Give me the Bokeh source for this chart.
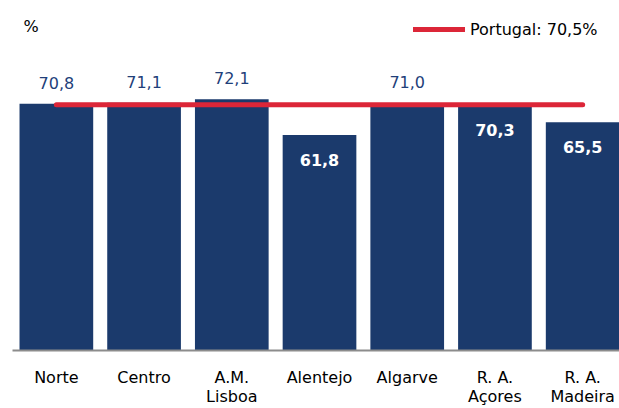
from bokeh.plotting import figure
from bokeh.models import Range1d, FixedTicker, ColumnDataSource, Label, Legend, LegendItem
from bokeh.embed import file_html
from bokeh.resources import INLINE
from bokeh.core.properties import value

regions = ["Norte", "Centro", "A.M.\nLisboa", "Alentejo", "Algarve", "R. A.\nAçores", "R. A.\nMadeira"]
rates = [70.8, 71.1, 72.1, 61.8, 71.0, 70.3, 65.5]
portugal = 70.5
portugal_label = "Portugal: 70,5%"
unit_label = "%"

BAR = "#1B3A6C"
RED = "#DC2638"
LBL = "#1F3F7A"
FONT = "DejaVu Sans"

xs = list(range(len(regions)))
fmt = [f"{v:.1f}".replace(".", ",") for v in rates]

p = figure(width=619, height=408, output_backend="svg", toolbar_location=None,
           x_range=Range1d(-0.5, 6.42), y_range=Range1d(0, 100.4),
           min_border_left=12, min_border_right=0, min_border_top=0, min_border_bottom=56)
p.outline_line_color = None
p.grid.visible = False
p.yaxis.visible = False
p.background_fill_color = "white"

src = ColumnDataSource(dict(x=xs, y=rates, t=fmt))
p.vbar(x="x", top="y", width=0.84, source=src, fill_color=BAR, line_color=None)

above = ColumnDataSource(dict(x=[x for x, v in zip(xs, rates) if v > portugal],
                              y=[v for v in rates if v > portugal],
                              t=[t for t, v in zip(fmt, rates) if v > portugal]))
inside = ColumnDataSource(dict(x=[x for x, v in zip(xs, rates) if v <= portugal],
                               y=[v for v in rates if v <= portugal],
                               t=[t for t, v in zip(fmt, rates) if v <= portugal]))

nat = p.line([xs[0], xs[-1]], [portugal, portugal], line_color=RED, line_width=5, line_cap="round")

p.text(x="x", y="y", text="t", source=above, text_align="center", text_baseline="alphabetic",
       y_offset=-21, text_font=value(FONT), text_font_size="16px", text_color=LBL)
p.text(x="x", y="y", text="t", source=inside, text_align="center", text_baseline="alphabetic",
       y_offset=25, text_font=value(FONT), text_font_size="16px", text_font_style="bold",
       text_color="white")

ax = p.xaxis[0]
ax.axis_label = None
ax.ticker = FixedTicker(ticks=xs)
ax.major_label_overrides = {i: r for i, r in zip(xs, regions)}
ax.major_tick_line_color = None
ax.minor_tick_line_color = None
ax.major_tick_out = 0
ax.major_tick_in = 0
ax.major_label_standoff = 17
ax.axis_line_color = "#8C8C8C"
ax.axis_line_width = 2
ax.major_label_text_font = FONT
ax.major_label_text_font_size = "16px"
ax.major_label_text_line_height = 1.0
ax.major_label_text_color = "#000000"

p.add_layout(Label(x=11, y=324, x_units="screen", y_units="screen", text=unit_label,
                   text_font=FONT, text_font_size="16px", text_baseline="middle",
                   text_color="#000000"))

legend = Legend(items=[LegendItem(label=portugal_label, renderers=[nat])],
                location=(401, 311), padding=0, margin=0, spacing=0,
                glyph_width=52, glyph_height=20, label_height=20, label_standoff=5,
                label_text_font=FONT, label_text_font_size="16px", label_text_color="#000000",
                border_line_alpha=0, background_fill_alpha=0)
p.add_layout(legend)

open("out.html", "w").write(file_html(p, INLINE))
